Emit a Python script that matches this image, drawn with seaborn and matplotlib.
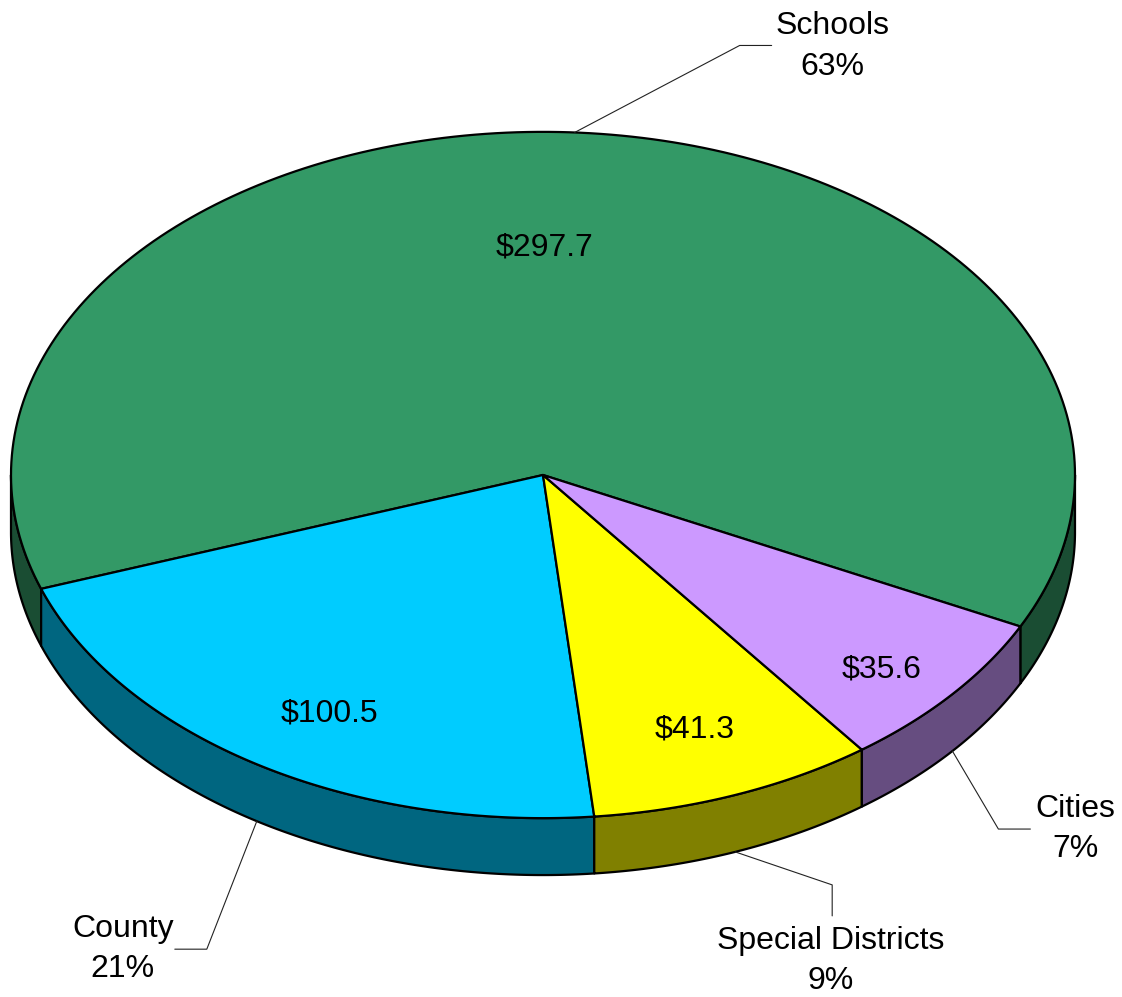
import numpy as np
import matplotlib
matplotlib.use("Agg")
import matplotlib.pyplot as plt
import seaborn as sns

# ---- data ----
categories = ["Schools", "County", "Special Districts", "Cities"]
values = [297.7, 100.5, 41.3, 35.6]
value_labels = ["$297.7", "$100.5", "$41.3", "$35.6"]

# ---- style ----
top_colors = ["#339966", "#00CCFF", "#FFFF00", "#CC99FF"]
side_colors = ["#1A4D33", "#006680", "#808000", "#664D80"]
start_angle = -26.2          # degrees, counter-clockwise
ry = 0.645                   # vertical squash of the pie top
depth = 0.107                # thickness of the pie
PX = 532.0                   # pixels per data unit
inner_r = [0.665, 0.80, 0.787, 0.847]
inner_off = [(-20, 0), (15, 7), (0, 3), (-8, 9)]   # px (right, down)
# leader line: elbow offset (px, right/down), then segment to text end, text offset
elbow = [(165, -87), (-50, 128), (97, 33), (46, 78)]
tail = [(32, 0), (-32, 0), (0, 31), (32, 0)]
text_off = [(61, 1), (-52, 0), (-2, 45), (45, 0)]

sns.set_theme(style="white")
plt.rcParams["font.family"] = ["Liberation Sans", "DejaVu Sans"]

fig = plt.figure(figsize=(11.22, 9.97), dpi=100)
ax = fig.add_axes([0, 0, 1, 1])
ax.set_xlim(-543 / PX, (1122 - 543) / PX)
ax.set_ylim(-(997 - 475) / PX, 475 / PX)
ax.set_axis_off()

total = sum(values)
spans = [v / total * 360.0 for v in values]
bounds = start_angle + np.concatenate([[0], np.cumsum(spans)])

def arc(a0, a1, n=200):
    t = np.radians(np.linspace(a0, a1, n))
    return np.cos(t), ry * np.sin(t)

# sides (front half only)
for i in range(len(values)):
    a0, a1 = bounds[i], bounds[i + 1]
    for lo, hi in [(-180, 0), (180, 360), (540, 720)]:
        s, e = max(a0, lo), min(a1, hi)
        if e > s:
            x, y = arc(s, e)
            px = np.concatenate([x, x[::-1]])
            py = np.concatenate([y, y[::-1] - depth])
            ax.fill(px, py, facecolor=side_colors[i], edgecolor="black",
                    linewidth=1.6, joinstyle="round", zorder=1)

# tops
for i in range(len(values)):
    x, y = arc(bounds[i], bounds[i + 1])
    px = np.concatenate([[0], x, [0]])
    py = np.concatenate([[0], y, [0]])
    ax.fill(px, py, facecolor=top_colors[i], edgecolor="black",
            linewidth=1.6, joinstyle="round", zorder=2)

# labels
for i in range(len(values)):
    m = np.radians((bounds[i] + bounds[i + 1]) / 2)
    ax.text(inner_r[i] * np.cos(m) + inner_off[i][0] / PX,
            inner_r[i] * ry * np.sin(m) - inner_off[i][1] / PX, value_labels[i],
            ha="center", va="center", fontsize=23, color="black", zorder=5)
    sx, sy = np.cos(m), ry * np.sin(m)
    if np.sin(m) < 0:
        sy -= depth
    ex, ey = sx + elbow[i][0] / PX, sy - elbow[i][1] / PX
    tx, ty = ex + tail[i][0] / PX, ey - tail[i][1] / PX
    ax.plot([sx, ex, tx], [sy, ey, ty], color="#222222", linewidth=0.8, zorder=4)
    pct = f"{round(values[i] / total * 100):.0f}%"
    ax.text(tx + text_off[i][0] / PX, ty - text_off[i][1] / PX,
            f"{categories[i]}\n{pct}", ha="center", va="center",
            fontsize=23, linespacing=1.46, color="black", zorder=5)

fig.savefig("out.png", dpi=100)
